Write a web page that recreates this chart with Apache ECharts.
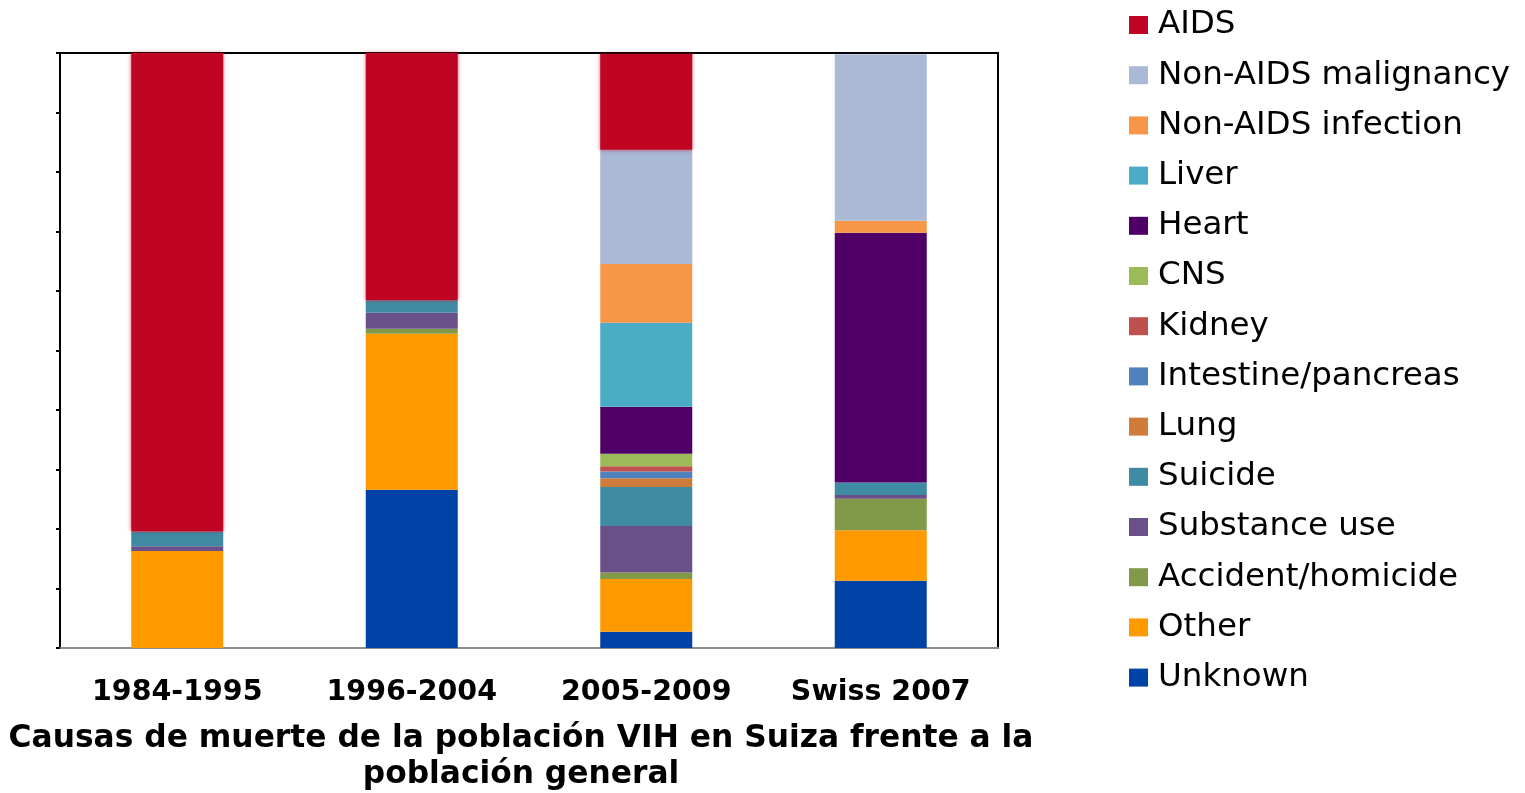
<!DOCTYPE html>
<html>
<head>
<meta charset="UTF-8">
<title>Causas de muerte VIH Suiza</title>
<script type="text/javascript" src="https://cdn.jsdelivr.net/npm/echarts@6/dist/echarts.min.js"></script>
<style>
html, body { margin: 0; padding: 0; background: #fff; }
#main { width: 1525px; height: 793px; }
</style>
</head>
<body>
<div id="main"></div>
<script type="text/javascript">
// categorias y porcentajes
var categories = ['1984-1995', '1996-2004', '2005-2009', 'Swiss 2007'];
var unknown    = [0,    26.6, 2.75, 11.3];
var other      = [16.3, 26.2, 8.85, 8.5];
var accident   = [0,    0.84, 1.1,  5.3];
var substance  = [0.8,  2.7,  7.8,  0.6];
var suicide    = [2.5,  2.1,  6.55, 2.1];
var lung       = [0,    0,    1.5,  0];
var intestine  = [0,    0,    1.1,  0];
var kidney     = [0,    0,    0.9,  0];
var cns        = [0,    0,    2.1,  0];
var heart      = [0,    0,    7.9,  42.0];
var liver      = [0,    0,    14.1, 0];
var infection  = [0,    0,    9.9,  2.0];
var malignancy = [0,    0,    19.2, 28.0];
var aids       = [80.4, 41.6, 16.1, 0];

// orden de apilado: de abajo hacia arriba
var names = ['Unknown', 'Other', 'Accident/homicide', 'Substance use', 'Suicide', 'Lung',
	'Intestine/pancreas', 'Kidney', 'CNS', 'Heart', 'Liver', 'Non-AIDS infection',
	'Non-AIDS malignancy', 'AIDS'];
var values = [unknown, other, accident, substance, suicide, lung, intestine, kidney,
	cns, heart, liver, infection, malignancy, aids];
var colors = ['#0042A5', '#FF9900', '#82994A', '#6A5088', '#3E8BA3', '#CF7B39',
	'#4F81BD', '#C0504D', '#9BBB59', '#4E0066', '#4BACC6', '#F79646',
	'#AAB9D6', '#BF0424'];

var myChart = echarts.init(document.getElementById('main'));

var series = [];
for (var i = 0; i < names.length; i++) {
	var s = {
		name: names[i],
		type: 'bar',
		stack: 'total',
		barWidth: 92,
		data: values[i],
		itemStyle: { color: colors[i] }
	};
	if (names[i] == 'AIDS') {
		s.itemStyle.shadowBlur = 4;
		s.itemStyle.shadowColor = 'rgba(191,4,36,0.6)';
	}
	series.push(s);
}

var option = {
	backgroundColor: '#fff',
	animation: false,
	title: {
		text: 'Causas de muerte de la población VIH en Suiza frente a la\npoblación general',
		left: 521,
		top: 721,
		padding: 0,
		textAlign: 'center',
		textStyle: {
			fontFamily: 'DejaVu Sans',
			fontWeight: 'bold',
			fontSize: 31.3,
			lineHeight: 36,
			color: '#000'
		}
	},
	legend: {
		orient: 'vertical',
		left: 1129,
		top: 7,
		padding: 0,
		itemWidth: 19,
		itemHeight: 18,
		itemGap: 14.2,
		icon: 'rect',
		data: names.slice().reverse(),
		textStyle: {
			fontFamily: 'DejaVu Sans',
			fontSize: 32.5,
			lineHeight: 36,
			color: '#000',
			padding: [0, 0, 0, 5]
		}
	},
	grid: {
		left: 60,
		top: 53,
		width: 938,
		height: 595,
		show: true,
		borderColor: '#000',
		borderWidth: 2
	},
	xAxis: {
		type: 'category',
		data: categories,
		axisLine: { lineStyle: { color: '#8c8c8c', width: 2 } },
		axisTick: { show: false },
		axisLabel: {
			margin: 30,
			fontFamily: 'DejaVu Sans',
			fontWeight: 'bold',
			fontSize: 28.5,
			color: '#000'
		}
	},
	yAxis: {
		type: 'value',
		min: 0,
		max: 100,
		interval: 10,
		axisLine: { show: true, lineStyle: { color: '#000', width: 2 } },
		axisTick: { show: true, length: 4, lineStyle: { color: '#000', width: 2 } },
		axisLabel: { show: false },
		splitLine: { show: false }
	},
	series: series
};
myChart.setOption(option);
</script>
</body>
</html>
